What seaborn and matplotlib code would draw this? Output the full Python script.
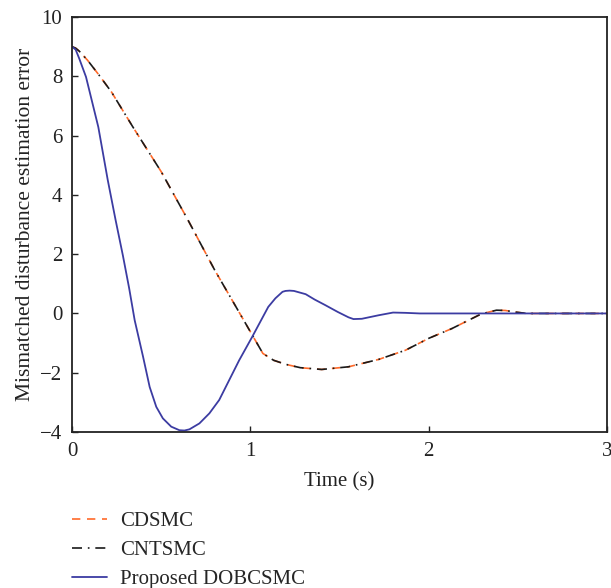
import numpy as np
import pandas as pd
import matplotlib
matplotlib.use("Agg")
import matplotlib.pyplot as plt
import seaborn as sns

# ---- data ----
t_cd = [0, 0.02, 0.04, 0.087, 0.15, 0.221, 0.341, 0.5, 0.65, 0.8, 0.93, 1.0, 1.07, 1.13, 1.2,
        1.28, 1.40, 1.55, 1.72, 1.87, 2.0, 2.13, 2.28, 2.32, 2.38, 2.43, 2.48, 2.55, 2.7, 3.0]
y_cd = [9, 8.95, 8.85, 8.54, 8.05, 7.47, 6.29, 4.78, 3.15, 1.46, 0.11, -0.62, -1.35, -1.58, -1.72,
        -1.83, -1.89, -1.80, -1.55, -1.24, -0.84, -0.51, -0.06, 0.02, 0.11, 0.10, 0.05, 0.0, 0.0, 0.0]
t_b = [0, 0.02, 0.04, 0.078, 0.147, 0.2, 0.244, 0.285, 0.32, 0.351, 0.398, 0.435, 0.472,
       0.509, 0.556, 0.602, 0.63, 0.658, 0.714, 0.77, 0.825, 0.881, 0.937, 1.01, 1.10,
       1.14, 1.18, 1.197, 1.22, 1.244, 1.31, 1.36, 1.42, 1.49, 1.55, 1.578, 1.625,
       1.72, 1.80, 1.87, 1.95, 3.0]
y_b = [9, 8.9, 8.6, 7.98, 6.29, 4.5, 3.15, 1.95, 0.85, -0.23, -1.46, -2.48, -3.15,
       -3.54, -3.82, -3.94, -3.95, -3.91, -3.71, -3.37, -2.92, -2.25, -1.58, -0.79, 0.22,
       0.51, 0.73, 0.76, 0.77, 0.76, 0.65, 0.47, 0.28, 0.05, -0.13, -0.19, -0.18,
       -0.06, 0.03, 0.02, 0.0, 0.0]
labels = ["CDSMC", "CNTSMC", "Proposed DOBCSMC"]
x_ticks = [0, 1, 2, 3]
y_ticks = [-4, -2, 0, 2, 4, 6, 8, 10]

sns.set_theme(style="ticks")
plt.rcParams["font.family"] = ["Liberation Serif", "DejaVu Serif"]
plt.rcParams["axes.unicode_minus"] = True

fig = plt.figure(figsize=(6.11, 5.88), dpi=100)
ax = fig.add_axes([0.118, 0.2653, 0.8755, 0.7057])

df_cd = pd.DataFrame({"t": t_cd, "y": y_cd})
df_b = pd.DataFrame({"t": t_b, "y": y_b})

sns.lineplot(data=df_cd, x="t", y="y", ax=ax, color="#FF6A2A", lw=1.2,
             linestyle=(0, (5, 4)), label=labels[0], sort=False)
sns.lineplot(data=df_cd, x="t", y="y", ax=ax, color="#1a1a1a", lw=1.2,
             linestyle=(0, (6, 3.5, 1, 3.5)), label=labels[1], sort=False)
sns.lineplot(data=df_b, x="t", y="y", ax=ax, color="#3C3CA2", lw=1.3,
             label=labels[2], sort=False)

ax.set_xlim(0, 3)
ax.set_ylim(-4, 10)
ax.set_xticks(x_ticks)
ax.set_yticks(y_ticks)
ax.tick_params(direction="in", length=4, width=1, labelsize=15, colors="#222222",
               pad=7)
for s in ax.spines.values():
    s.set_linewidth(1.3)
    s.set_color("#222222")
ax.set_xlabel("Time (s)", fontsize=15, color="#222222", labelpad=8)
ax.set_ylabel("Mismatched disturbance estimation error", fontsize=15.5,
              color="#222222", labelpad=4)

handles, labs = ax.get_legend_handles_labels()
ax.get_legend().remove()
fig.legend(handles, labs, loc="upper left", bbox_to_anchor=(0.0865, 0.162),
           frameon=False, fontsize=15, handlelength=1.68, handletextpad=0.63,
           labelspacing=0.45)

fig.savefig("out.png", dpi=100)
